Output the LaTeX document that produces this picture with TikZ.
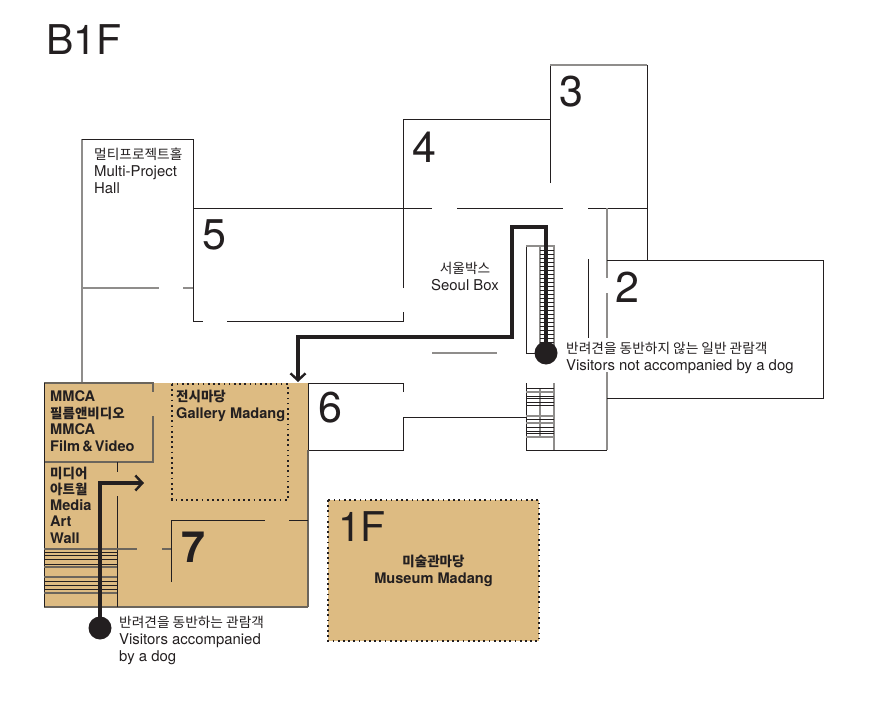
\documentclass[tikz,border=0pt]{standalone}
\usepackage{fontspec}
\setmainfont{TeX Gyre Heros}
\newfontfamily\kor{Noto Sans CJK KR}
\usepackage{tikz}
\usetikzlibrary{arrows.meta}
\definecolor{tan}{HTML}{DDBB82}
\definecolor{ink}{HTML}{231F20}
\definecolor{wallgrey}{HTML}{8F8D8B}
\definecolor{blockgrey}{HTML}{6B655C}
\newcommand{\ko}[1]{{\kor\fontsize{13.7}{17}\selectfont #1}}
\newcommand{\kob}[1]{{\kor\bfseries\fontsize{13.5}{16}\selectfont #1}}
\tikzset{
  wall/.style={draw=ink, line width=0.9pt},
  greywall/.style={draw=wallgrey, line width=1.1pt},
  blockwall/.style={draw=blockgrey, line width=1.1pt},
  dotted line/.style={draw=ink, line width=1.7pt, dash pattern=on 1.7pt off 3.5pt},
  route/.style={draw=ink, line width=3.6pt},
  dogdot/.style={circle, fill=ink, inner sep=0pt, minimum size=23pt},
  floor/.style={inner sep=0pt, text=ink, font=\fontsize{41}{41}\selectfont},
  roomno/.style={inner sep=0pt, text=ink, font=\fontsize{43}{43}\selectfont},
  label/.style={inner sep=0pt, text=ink, align=left, anchor=north west, font=\fontsize{14.9}{17}\selectfont},
  boldlabel/.style={label, font=\bfseries\fontsize{14.6}{16.7}\selectfont},
}
\begin{document}
\begin{tikzpicture}[x=1pt, y=-1pt]
\useasboundingbox (0,0) rectangle (871,701);

%% tan areas
\fill[tan] (44,383) rectangle (308,607);
\fill[tan] (328,500) rectangle (539,641);

%% Multi-Project Hall
\draw[greywall] (82,382) -- (82,139);
\draw[wall] (82,139) -- (193,139) -- (193,321) -- (203,321);
\draw[greywall] (82,288) -- (159,288);
\draw[greywall] (183,288) -- (193,288);

%% 5
\draw[wall] (193,208) -- (432,208);
\draw[wall] (457,208) -- (563,208);
\draw[wall] (588,208) -- (647,208);
\draw[wall] (227,321) -- (403,321) -- (403,312);
\draw[wall] (403,288) -- (403,119);

%% 4 and 3
\draw[wall] (403,119) -- (550,119);
\draw[wall] (550,183) -- (550,65);
\draw[greywall] (550,65) -- (647,65);
\draw[wall] (647,65) -- (647,260);

%% 2
\draw[greywall] (607,208) -- (607,278);
\draw[greywall] (607,293) -- (607,338);
\draw[greywall] (607,372) -- (607,450);
\draw[wall] (607,260) -- (823,260) -- (823,398) -- (607,398);
\draw[wall] (588,259) -- (588,338);
\draw[greywall] (432,353) -- (497,353);

%% upper stairs
\draw[wall] (540,353) -- (526,353) -- (526,246);
\draw[greywall] (526,246) -- (554,246) -- (554,353);
\draw[greywall] (540,246) -- (540,353);
\foreach \y in {250,254,...,346}
  \draw[wall] (540,\y) -- (554,\y);

%% lower stairs
\draw[wall] (526,383) -- (526,450) -- (607,450);
\draw[greywall] (554,383) -- (554,450);
\draw[greywall] (540,388) -- (540,437);
\foreach \y in {388,396,398,402,405,419,427,431,433}
  \draw[wall] (526,\y) -- (554,\y);
\foreach \y in {392,416,423,437}
  \draw[greywall] (526,\y) -- (554,\y);

%% 6
\draw[wall] (403,392) -- (403,383) -- (308,383) -- (308,450) -- (403,450) -- (403,417) -- (526,417);

%% 7 and the tan block
\draw[blockwall] (44,383) -- (153,383) -- (153,392);
\draw[blockwall] (153,416) -- (153,462) -- (44,462);
\draw[blockwall] (44,607) -- (308,607);
\draw[blockwall] (308,450) -- (308,607);
\draw[wall] (44,383) -- (44,607);
\draw[wall] (117,462) -- (117,472);
\draw[wall] (117,496) -- (117,607);
\draw[wall] (171,582) -- (171,520) -- (265,520);
\draw[wall] (289,520) -- (308,520);
\draw[blockwall] (44,549) -- (137,549);
\draw[blockwall] (162,549) -- (171,549);
\foreach \y in {552,555,559,564,581,585,589}
  \draw[wall] (44,\y) -- (117,\y);
\foreach \y in {567,577,593}
  \draw[blockwall] (44,\y) -- (117,\y);

%% dotted rooms
\draw[dotted line] (172,384) rectangle (288,500);
\draw[dotted line] (328,500) rectangle (539,641);

%% routes
\node[dogdot] (dotplain) at (546,353) {};
\node[dogdot] (dotdog) at (100,628) {};
\coordinate (plainend) at (298,382);
\coordinate (dogend) at (144,483);
\draw[route, -{Straight Barb[length=7pt,width=15pt,line width=2.4pt]}]
  (dotplain.center) -- (546,227) -- (512,227) -- (512,337) -- (298,337) -- (plainend);
\draw[route, -{Straight Barb[length=7pt,width=15pt,line width=2.4pt]}]
  (dotdog.center) |- (dogend);

%% numbers
\node[floor, anchor=base west] (bonef) at (46,55) {B1F};
\node[floor, anchor=base west] (onef) at (338,541) {1F};
\node[roomno] (roomtwo) at (627.5,287) {2};
\node[roomno] (roomthree) at (571.5,92) {3};
\node[roomno] (roomfour) at (424,147) {4};
\node[roomno] (roomfive) at (214,235) {5};
\node[roomno] (roomsix) at (330,408) {6};
\node[roomno, font=\bfseries\fontsize{43}{43}\selectfont] (roomseven) at (193,547) {7};

%% labels
\node[label] (multi) at (94,147.5) {\ko{멀티프로젝트홀}\\Multi-Project\\Hall};
\node[label, align=center, anchor=north] (seoul) at (465,262) {\ko{서울박스}\\Seoul Box};
\node[label] (plain) at (566,342) {\ko{반려견을 동반하지 않는 일반 관람객}\\Visitors not accompanied by a dog};
\node[label] (accomp) at (119,616) {\ko{반려견을 동반하는 관람객}\\Visitors accompanied\\by a dog};
\node[boldlabel] (film) at (50,390.5) {MMCA\\\kob{필름앤비디오}\\MMCA\\Film\hspace{-2pt} \&\hspace{-2pt} Video};
\node[boldlabel, font=\bfseries\fontsize{14.6}{16.1}\selectfont] (media) at (50,467) {\kob{미디어}\\\kob{아트월}\\Media\\Art\\Wall};
\node[boldlabel] (gallery) at (176,390) {\kob{전시마당}\\Gallery Madang};
\node[boldlabel, align=center, anchor=north] (museum) at (433.5,555) {\kob{미술관마당}\\Museum Madang};
\end{tikzpicture}
\end{document}
